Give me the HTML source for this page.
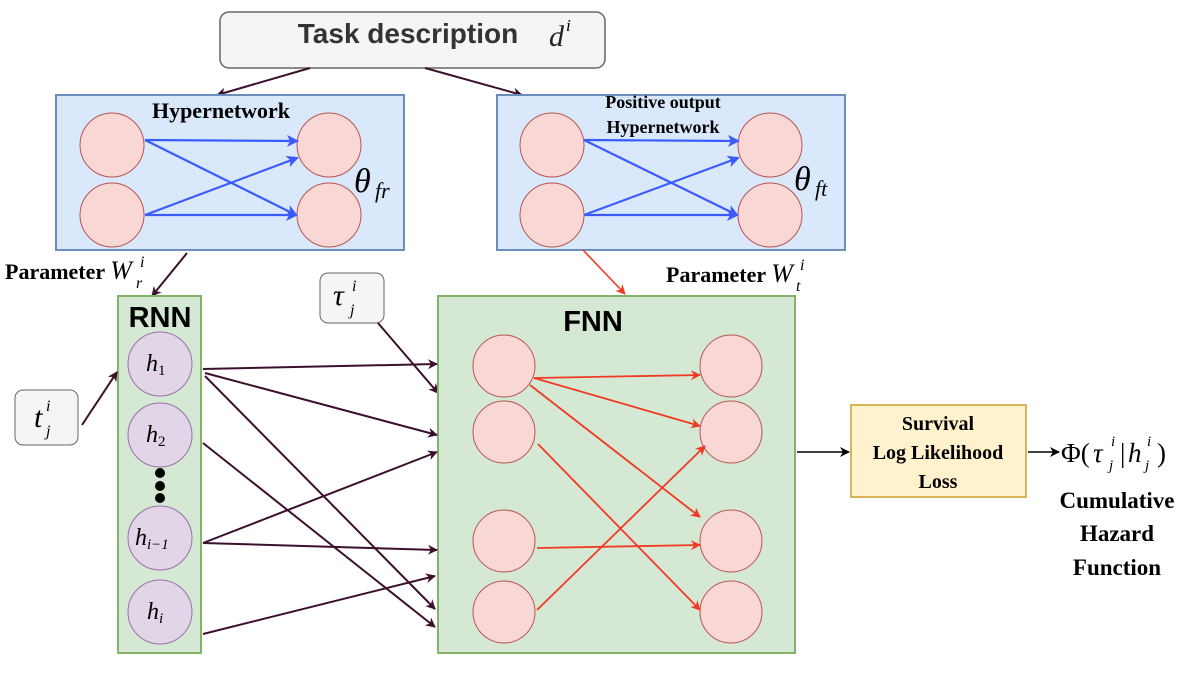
<!DOCTYPE html>
<html><head><meta charset="utf-8"><style>html,body{margin:0;padding:0;background:#fff}</style></head><body>
<svg width="1192" height="668" viewBox="0 0 1192 668" xmlns="http://www.w3.org/2000/svg">
<defs>
<marker id="ad" markerWidth="10" markerHeight="10" refX="9" refY="5" orient="auto" markerUnits="userSpaceOnUse"><path d="M0,0 L10,5 L0,10 L3,5 z" fill="#3b0f2e"/></marker>
<marker id="ab" markerWidth="12" markerHeight="12" refX="10" refY="6" orient="auto" markerUnits="userSpaceOnUse"><path d="M0,0 L12,6 L0,12 L3,6 z" fill="#3a5cff"/></marker>
<marker id="ar" markerWidth="10" markerHeight="10" refX="9" refY="5" orient="auto" markerUnits="userSpaceOnUse"><path d="M0,0 L10,5 L0,10 L3,5 z" fill="#f03a24"/></marker>
<marker id="ak" markerWidth="10" markerHeight="10" refX="9" refY="5" orient="auto" markerUnits="userSpaceOnUse"><path d="M0,0 L10,5 L0,10 L3,5 z" fill="#000"/></marker>
</defs>
<g font-family="Liberation Serif, serif">
<rect x="220" y="12" width="385" height="56" rx="9" fill="#f5f5f5" stroke="#666" stroke-width="1.5"/>
<text x="408" y="43" font-family="Liberation Sans, sans-serif" font-weight="bold" font-size="28" fill="#333" text-anchor="middle">Task description</text>
<text x="549" y="46" font-style="italic" font-size="30" fill="#222">d</text><text x="566" y="31" font-style="italic" font-size="17">i</text>
<line x1="310" y1="68" x2="217" y2="95" stroke="#3b0f2e" stroke-width="2" marker-end="url(#ad)"/>
<line x1="425" y1="68" x2="522" y2="95" stroke="#3b0f2e" stroke-width="2" marker-end="url(#ad)"/>

<rect x="56" y="95" width="348" height="155" fill="#dae8fc" stroke="#6c8ebf" stroke-width="2"/>
<rect x="497" y="95" width="348" height="155" fill="#dae8fc" stroke="#6c8ebf" stroke-width="2"/>
<g fill="#f8d7d5" stroke="#b85450" stroke-width="1">
<ellipse cx="112" cy="145" rx="32" ry="32"/><ellipse cx="112" cy="215" rx="32" ry="32"/>
<ellipse cx="329" cy="145" rx="32" ry="32"/><ellipse cx="329" cy="215" rx="32" ry="32"/>
<ellipse cx="552" cy="145" rx="32" ry="32"/><ellipse cx="552" cy="215" rx="32" ry="32"/>
<ellipse cx="770" cy="145" rx="32" ry="32"/><ellipse cx="770" cy="215" rx="32" ry="32"/>
</g>
<text x="221" y="118" font-weight="bold" font-size="22" text-anchor="middle">Hypernetwork</text>
<g stroke="#3a5cff" stroke-width="2.2" marker-end="url(#ab)">
<line x1="145" y1="140" x2="297" y2="141"/><line x1="145" y1="140" x2="296" y2="215"/>
<line x1="145" y1="215" x2="297" y2="158"/><line x1="145" y1="215" x2="296" y2="215"/>
</g>
<text x="354" y="192" font-style="italic" font-size="34">θ</text><text x="375" y="198" font-style="italic" font-size="22">fr</text>

<text x="663" y="108" font-weight="bold" font-size="18" text-anchor="middle">Positive  output</text>
<text x="663" y="133" font-weight="bold" font-size="18" text-anchor="middle">Hypernetwork</text>
<g fill="none" stroke="#3a5cff" stroke-width="2.2" marker-end="url(#ab)">
<line x1="584" y1="140" x2="738" y2="141"/><line x1="584" y1="140" x2="737" y2="215"/>
<line x1="584" y1="215" x2="738" y2="158"/><line x1="584" y1="215" x2="737" y2="215"/>
</g>
<text x="794" y="190" font-style="italic" font-size="34">θ</text><text x="815" y="196" font-style="italic" font-size="22">ft</text>

<text x="5" y="279" font-weight="bold" font-size="22">Parameter <tspan font-style="italic" font-weight="normal" font-size="26">W</tspan></text>
<text x="140" y="267" font-style="italic" font-size="16">i</text><text x="136" y="288" font-style="italic" font-size="16">r</text>
<text x="666" y="282" font-weight="bold" font-size="22">Parameter <tspan font-style="italic" font-weight="normal" font-size="26">W</tspan></text>
<text x="800" y="270" font-style="italic" font-size="16">i</text><text x="796" y="291" font-style="italic" font-size="16">t</text>
<line x1="187" y1="253" x2="152" y2="296" stroke="#3b0f2e" stroke-width="2" marker-end="url(#ad)"/>
<line x1="583" y1="250" x2="625" y2="294" stroke="#f03a24" stroke-width="1.6" marker-end="url(#ar)"/>

<rect x="118" y="296" width="83" height="357" fill="#d5e8d4" stroke="#82b366" stroke-width="2"/>
<text x="160" y="327" font-family="Liberation Sans, sans-serif" font-weight="bold" font-size="29" text-anchor="middle">RNN</text>
<g fill="#e1d5e7" stroke="#9673a6" stroke-width="1">
<circle cx="160" cy="364" r="32"/><circle cx="160" cy="435" r="32"/><circle cx="160" cy="538" r="32"/><circle cx="160" cy="612" r="32"/>
</g>
<g fill="#000"><circle cx="160" cy="473" r="5"/><circle cx="160" cy="486" r="5"/><circle cx="160" cy="498" r="5"/></g>
<g font-style="italic" font-size="24">
<text x="146" y="371">h<tspan font-size="15" font-style="normal" dy="4">1</tspan></text>
<text x="146" y="442">h<tspan font-size="15" font-style="normal" dy="4">2</tspan></text>
<text x="135" y="545">h<tspan font-size="15" dy="4">i−1</tspan></text>
<text x="147" y="619">h<tspan font-size="15" dy="4">i</tspan></text>
</g>

<rect x="15" y="390" width="63" height="55" rx="8" fill="#f5f5f5" stroke="#666"/>
<text x="34" y="427" font-style="italic" font-size="30">t</text><text x="46" y="411" font-style="italic" font-size="16">i</text><text x="46" y="436" font-style="italic" font-size="16">j</text>
<line x1="82" y1="425" x2="117" y2="372" stroke="#3b0f2e" stroke-width="2" marker-end="url(#ad)"/>

<rect x="320" y="273" width="64" height="50" rx="8" fill="#f5f5f5" stroke="#666"/>
<text x="333" y="305" font-style="italic" font-size="30">τ</text><text x="352" y="291" font-style="italic" font-size="16">i</text><text x="350" y="315" font-style="italic" font-size="16">j</text>
<line x1="378" y1="323" x2="438" y2="393" stroke="#3b0f2e" stroke-width="2" marker-end="url(#ad)"/>

<rect x="438" y="296" width="357" height="357" fill="#d5e8d4" stroke="#82b366" stroke-width="2"/>
<text x="593" y="331" font-family="Liberation Sans, sans-serif" font-weight="bold" font-size="29" text-anchor="middle">FNN</text>
<g fill="#f8d7d5" stroke="#b85450" stroke-width="1">
<circle cx="504" cy="366" r="31"/><circle cx="504" cy="432" r="31"/><circle cx="504" cy="541" r="31"/><circle cx="504" cy="612" r="31"/>
<circle cx="731" cy="366" r="31"/><circle cx="731" cy="432" r="31"/><circle cx="731" cy="541" r="31"/><circle cx="731" cy="612" r="31"/>
</g>
<g stroke="#f03a24" stroke-width="1.8" marker-end="url(#ar)">
<line x1="534" y1="378" x2="700" y2="375"/><line x1="534" y1="378" x2="700" y2="426"/>
<line x1="530" y1="385" x2="700" y2="517"/><line x1="538" y1="444" x2="700" y2="610"/>
<line x1="537" y1="548" x2="700" y2="545"/><line x1="537" y1="610" x2="705" y2="446"/>
</g>
<g stroke="#3b0f2e" stroke-width="2" marker-end="url(#ad)">
<line x1="203" y1="369" x2="437" y2="364"/><line x1="205" y1="373" x2="437" y2="435"/>
<line x1="205" y1="376" x2="435" y2="609"/><line x1="203" y1="443" x2="435" y2="627"/>
<line x1="203" y1="543" x2="437" y2="452"/><line x1="203" y1="543" x2="437" y2="550"/>
<line x1="203" y1="634" x2="435" y2="576"/>
</g>

<line x1="797" y1="452" x2="849" y2="452" stroke="#000" stroke-width="1.6" marker-end="url(#ak)"/>
<rect x="851" y="405" width="175" height="92" fill="#fff2cc" stroke="#d6b656" stroke-width="2"/>
<g font-weight="bold" font-size="20" text-anchor="middle">
<text x="938" y="430">Survival</text><text x="938" y="459">Log Likelihood</text><text x="938" y="488">Loss</text>
</g>
<line x1="1028" y1="452" x2="1059" y2="452" stroke="#000" stroke-width="1.6" marker-end="url(#ak)"/>
<text x="1061" y="462" font-size="27">Φ(</text>
<text x="1093" y="462" font-style="italic" font-size="27">τ</text>
<text x="1111" y="446" font-style="italic" font-size="15">i</text><text x="1109" y="470" font-style="italic" font-size="15">j</text>
<text x="1120" y="462" font-size="27">|</text>
<text x="1128" y="462" font-style="italic" font-size="27">h</text>
<text x="1147" y="446" font-style="italic" font-size="15">i</text><text x="1145" y="470" font-style="italic" font-size="15">j</text>
<text x="1157" y="462" font-size="27">)</text>
<g font-weight="bold" font-size="23" text-anchor="middle">
<text x="1117" y="508">Cumulative</text><text x="1117" y="541">Hazard</text><text x="1117" y="575">Function</text>
</g>
</g>
</svg>
</body></html>
